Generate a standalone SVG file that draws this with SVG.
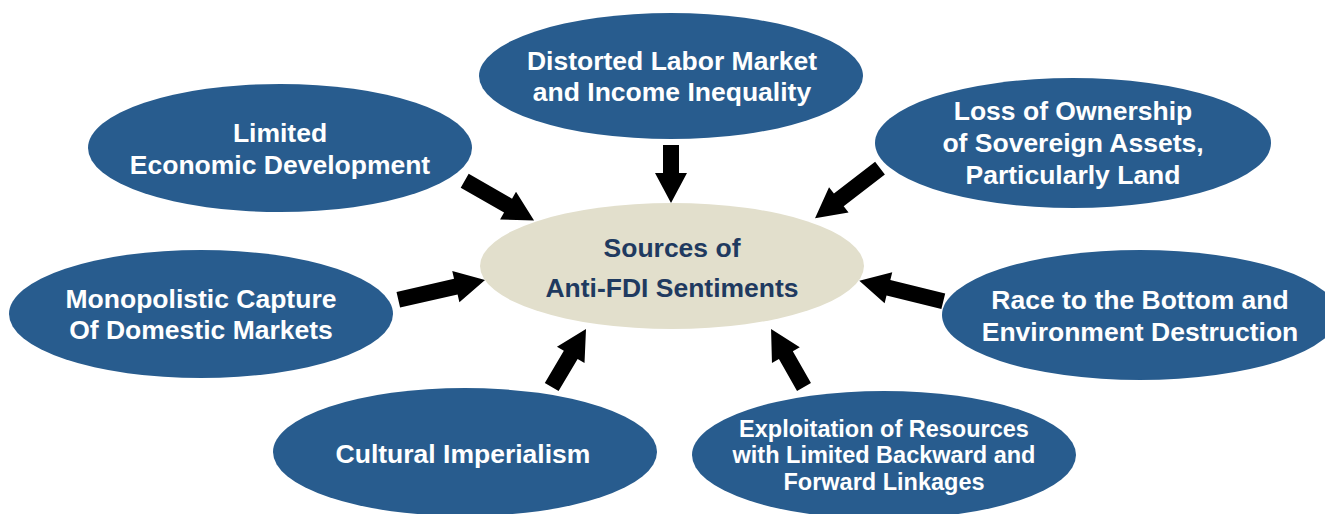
<svg xmlns="http://www.w3.org/2000/svg" width="1325" height="514" viewBox="0 0 1325 514">
<style>
.node{fill:#285c8e}
.hub{fill:#e2dfcc}
.t{font-family:"Liberation Sans",Arial,sans-serif;font-weight:bold;font-size:26.5px;fill:#ffffff;text-anchor:middle}
.s{font-size:23.5px}
.h{fill:#1f3a60}
.arrow{fill:#000000}
</style>
<rect width="1325" height="514" fill="#ffffff"/>
<g id="connectors">
<path class="arrow" transform="translate(671,145) rotate(90)" d="M0,-8 H28 V-16 L58,0 L28,16 V8 H0 Z"/>
<path class="arrow" transform="translate(464.7,180.7) rotate(29.9)" d="M0,-8 H50 V-16 L80,0 L50,16 V8 H0 Z"/>
<path class="arrow" transform="translate(880,168.2) rotate(142.4)" d="M0,-8 H52 V-16 L82,0 L52,16 V8 H0 Z"/>
<path class="arrow" transform="translate(398.3,299.8) rotate(-12.9)" d="M0,-8 H59 V-16 L89,0 L59,16 V8 H0 Z"/>
<path class="arrow" transform="translate(943.3,301.3) rotate(193.8)" d="M0,-8 H56.5 V-16 L86.5,0 L56.5,16 V8 H0 Z"/>
<path class="arrow" transform="translate(551.7,387) rotate(-59.4)" d="M0,-8 H37.4 V-16 L67.4,0 L37.4,16 V8 H0 Z"/>
<path class="arrow" transform="translate(804,387) rotate(-119.6)" d="M0,-8 H36.7 V-16 L66.7,0 L36.7,16 V8 H0 Z"/>
</g>
<g id="hub">
<ellipse class="hub" cx="672" cy="266" rx="192" ry="63"/>
<text class="t h" x="672" y="257">Sources of</text>
<text class="t h" x="672" y="297">Anti-FDI Sentiments</text>
</g>
<g id="n-labor">
<ellipse class="node" cx="671" cy="76" rx="192" ry="63"/>
<text class="t" x="672" y="70">Distorted Labor Market</text>
<text class="t" x="672" y="101">and Income Inequality</text>
</g>
<g id="n-limited">
<ellipse class="node" cx="280" cy="148" rx="192" ry="64"/>
<text class="t" x="280" y="142">Limited</text>
<text class="t" x="280" y="174">Economic Development</text>
</g>
<g id="n-ownership">
<ellipse class="node" cx="1073" cy="143" rx="198" ry="65"/>
<text class="t" x="1073" y="120">Loss of Ownership</text>
<text class="t" x="1073" y="152">of Sovereign Assets,</text>
<text class="t" x="1073" y="184">Particularly Land</text>
</g>
<g id="n-monopolistic">
<ellipse class="node" cx="201" cy="314" rx="192" ry="64"/>
<text class="t" x="201" y="308">Monopolistic Capture</text>
<text class="t" x="201" y="339">Of Domestic Markets</text>
</g>
<g id="n-race">
<ellipse class="node" cx="1140" cy="315" rx="198" ry="65"/>
<text class="t" x="1140" y="309">Race to the Bottom and</text>
<text class="t" x="1140" y="341">Environment Destruction</text>
</g>
<g id="n-cultural">
<ellipse class="node" cx="465" cy="452" rx="192" ry="64"/>
<text class="t" x="463" y="463">Cultural Imperialism</text>
</g>
<g id="n-exploitation">
<ellipse class="node" cx="884" cy="455" rx="192" ry="64"/>
<text class="t s" x="884" y="437">Exploitation of Resources</text>
<text class="t s" x="884" y="463">with Limited Backward and</text>
<text class="t s" x="884" y="490">Forward Linkages</text>
</g>
</svg>
